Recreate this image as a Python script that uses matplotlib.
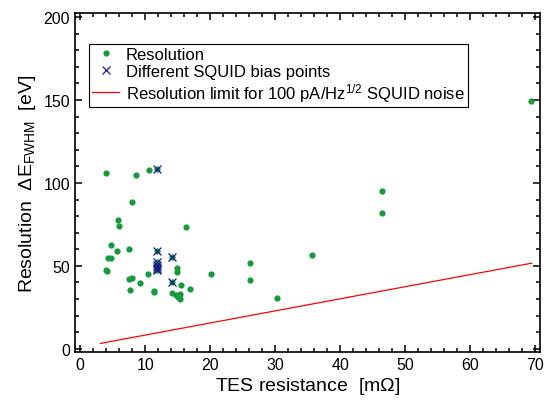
import numpy as np
import matplotlib
matplotlib.use("Agg")
import matplotlib.pyplot as plt
from matplotlib.ticker import MultipleLocator

plt.rcParams['font.family'] = ['Liberation Sans', 'DejaVu Sans']
plt.rcParams['mathtext.fontset'] = 'custom'
plt.rcParams['mathtext.rm'] = 'Liberation Sans'
plt.rcParams['mathtext.it'] = 'Liberation Sans:italic'

# measured resolution vs TES resistance
res_x = [4.0, 8.6, 10.6, 11.8, 8.0, 5.8, 5.95, 16.2, 4.8, 5.7,
         7.5, 11.8, 14.1, 4.25, 4.8, 11.8, 11.8, 11.8, 4.0, 4.1,
         10.5, 7.45, 8.0, 9.2, 7.6, 11.35, 11.35, 14.9, 14.9, 20.2,
         15.45, 16.95, 14.07, 14.8, 15.2, 15.4, 15.0, 15.4, 26.2, 26.2,
         30.3, 35.7, 46.4, 46.4, 69.4, 14.1]
res_y = [105.8, 104.6, 107.6, 108.2, 88.6, 77.6, 73.8, 73.2, 62.6, 58.8,
         60.0, 58.8, 55.6, 54.6, 54.6, 52.2, 49.2, 47.2, 47.6, 47.0,
         44.8, 42.2, 42.4, 39.4, 35.4, 34.8, 34.0, 48.8, 46.4, 45.2,
         38.2, 35.8, 33.4, 32.2, 32.6, 33.0, 31.2, 30.2, 51.4, 41.2,
         30.4, 56.8, 95.0, 81.8, 149.7, 40.2]

# different SQUID bias points
bias_x = [11.8, 11.8, 11.8, 11.8, 11.8, 11.8, 11.8, 14.1, 14.1]
bias_y = [108.2, 58.8, 52.2, 50.2, 49.2, 48.2, 47.2, 55.6, 40.2]

# resolution limit for 100 pA/Hz^1/2 SQUID noise
lim_x = [3.1, 69.5]
lim_y = [3.2, 51.6]

fig = plt.figure(figsize=(5.44, 4.06), dpi=100)
ax = fig.add_axes([0.138, 0.1305, 0.855, 0.835])

ax.plot(res_x, res_y, 'o', color='#179a3c', ms=4.5, mew=0,
        label='Resolution')
ax.plot(bias_x, bias_y, 'x', color='#1c1c8c', ms=6, mew=0.9,
        label='Different SQUID bias points')
ax.plot(lim_x, lim_y, '-', color='red', lw=0.9,
        label='Resolution limit for 100 pA/Hz$^{1/2}$ SQUID noise')

ax.set_xlim(-0.8, 70.8)
ax.set_ylim(-2, 202.5)
ax.xaxis.set_major_locator(MultipleLocator(10))
ax.xaxis.set_minor_locator(MultipleLocator(2))
ax.yaxis.set_major_locator(MultipleLocator(50))
ax.yaxis.set_minor_locator(MultipleLocator(10))
ax.tick_params(which='both', direction='in', top=True, right=True,
               labelsize=11.5, width=1.1)
ax.tick_params(which='major', length=5)
ax.tick_params(which='minor', length=3)
for s in ax.spines.values():
    s.set_linewidth(1.2)

ax.set_xlabel(r'TES resistance  [m$\Omega$]', fontsize=14, labelpad=2)
ax.set_ylabel(r'Resolution  $\Delta$E$_{\rm FWHM}$  [eV]', fontsize=14,
              labelpad=4)

leg = ax.legend(loc='upper left', bbox_to_anchor=(0.03, 0.91),
                fontsize=12, frameon=True, fancybox=False,
                edgecolor='black', framealpha=1, handlelength=1.6,
                handletextpad=0.4, borderpad=0.2, labelspacing=0.12,
                borderaxespad=0)
leg.get_frame().set_linewidth(0.8)

fig.savefig('out.png', dpi=100)
